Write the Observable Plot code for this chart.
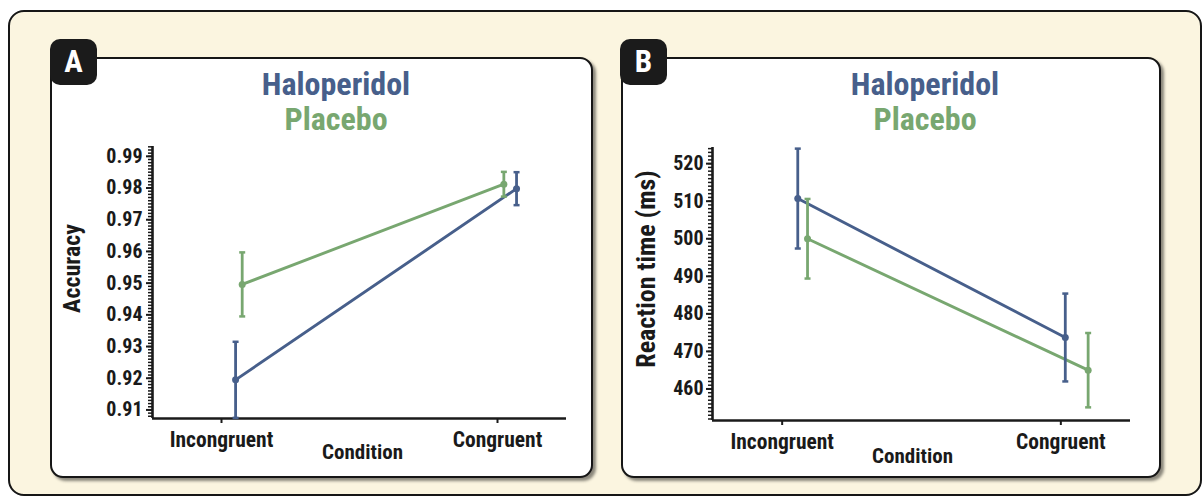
<!DOCTYPE html>
<html>
<head>
<meta charset="utf-8">
<script src="https://cdn.jsdelivr.net/npm/d3@7"></script>
<script src="https://cdn.jsdelivr.net/npm/@observablehq/plot@0.6"></script>
<style>
  body { margin: 0; background: #ffffff; width: 1203px; height: 498px; overflow: hidden;
         font-family: "Liberation Sans Narrow", "Roboto Condensed", "DejaVu Sans Condensed", sans-serif; font-weight: bold; }
  #outer { position: absolute; left: 8px; top: 10px; width: 1194px; height: 486px; background: #fbf5e0;
           border: 2px solid #161616; border-radius: 16px; box-sizing: border-box; }
  .panel { position: absolute; top: 57px; height: 421px; background: #ffffff; border: 2.5px solid #161616;
           border-radius: 13px; box-sizing: border-box; box-shadow: 3px 3px 3px rgba(0,0,0,0.45); }
  .tab { position: absolute; top: 39px; width: 47px; height: 46px; background: #1b1b1b; border-radius: 10px;
         color: #ffffff; font-size: 31px; text-align: center; line-height: 46px; }
  .title { position: absolute; transform: translateX(-50%); font-size: 32px; white-space: nowrap; line-height: 1; }
  .plot { position: absolute; top: 57px; }
</style>
</head>
<body>
<div id="outer"></div>
<div class="panel" style="left:50px;width:543px;"></div>
<div class="panel" style="left:621px;width:540px;"></div>
<div class="tab" style="left:50px;">A</div>
<div class="tab" style="left:620px;">B</div>
<div class="title" id="tA1" style="left:336px;top:68px;"></div>
<div class="title" id="tA2" style="left:336px;top:103px;"></div>
<div class="title" id="tB1" style="left:925px;top:68px;"></div>
<div class="title" id="tB2" style="left:925px;top:103px;"></div>
<div class="plot" id="plotA" style="left:50px;"></div>
<div class="plot" id="plotB" style="left:621px;"></div>
<script>
// ---------------- DATA ----------------
const conditions = ["Incongruent", "Congruent"];
const groups = ["Haloperidol", "Placebo"];

const accuracyHaloperidol    = [0.9195, 0.9798];
const accuracyHaloperidolErr = [0.0120, 0.0052];
const accuracyPlacebo        = [0.9496, 0.9812];
const accuracyPlaceboErr     = [0.0101, 0.0039];

const rtHaloperidol    = [510.7, 473.7];
const rtHaloperidolErr = [13.3, 11.7];
const rtPlacebo        = [500.0, 465.0];
const rtPlaceboErr     = [10.6, 9.9];

const accuracyTicks = [0.91, 0.92, 0.93, 0.94, 0.95, 0.96, 0.97, 0.98, 0.99];
const rtTicks = [460, 470, 480, 490, 500, 510, 520];

const yLabelA = "Accuracy";
const yLabelB = "Reaction time (ms)";
const xLabel = "Condition";

// ---------------- DRAWING ----------------
const FONT = '"Liberation Sans Narrow", "Roboto Condensed", "DejaVu Sans Condensed", sans-serif';
const BLUE = "#475f8b";
const GREEN = "#78a770";
const INK = "#1a1a1a";

document.getElementById("tA1").textContent = groups[0];
document.getElementById("tA2").textContent = groups[1];
document.getElementById("tB1").textContent = groups[0];
document.getElementById("tB2").textContent = groups[1];
for (const id of ["tA1", "tB1"]) document.getElementById(id).style.color = BLUE;
for (const id of ["tA2", "tB2"]) document.getElementById(id).style.color = GREEN;

// horizontal jitter of the points (in condition units), as drawn in the figure
const jitterA = {Haloperidol: [0.051, 0.069], Placebo: [0.075, 0.023]};
const jitterB = {Haloperidol: [0.056, 0.016], Placebo: [0.091, 0.098]};

function rowsOf(hal, halErr, pla, plaErr, jitter) {
  const rows = [];
  conditions.forEach((c, i) => {
    rows.push({group: groups[0], condition: c, ci: i, x: i + jitter[groups[0]][i], value: hal[i], err: halErr[i]});
  });
  conditions.forEach((c, i) => {
    rows.push({group: groups[1], condition: c, ci: i, x: i + jitter[groups[1]][i], value: pla[i], err: plaErr[i]});
  });
  return rows;
}

const capSymbol = {
  draw(context, size) {
    const w = Math.sqrt(size / Math.PI);
    context.moveTo(-w, 0);
    context.lineTo(w, 0);
  }
};

function makePanel(o) {
  const xDomain = [-0.25, 1.25];
  const minor = d3.range(Math.ceil(o.yDomain[0] / o.minorStep), Math.floor(o.yDomain[1] / o.minorStep) + 1)
    .map(k => +(k * o.minorStep).toFixed(6));
  return Plot.plot({
    width: o.width, height: o.height,
    marginLeft: o.margins[0], marginRight: o.margins[1], marginTop: o.margins[2], marginBottom: o.margins[3],
    style: {background: "transparent", fontFamily: FONT, fontWeight: "bold", color: INK, overflow: "visible"},
    x: {type: "linear", domain: xDomain},
    y: {domain: o.yDomain},
    color: {domain: groups, range: [BLUE, GREEN]},
    marks: [
      Plot.axisY({ticks: minor, tickSize: 4, tickFormat: () => "", label: null, strokeWidth: 1.5, stroke: INK}),
      Plot.axisY({ticks: o.ticks, tickSize: 6, tickPadding: o.tickPad, tickFormat: o.fmt, fontSize: 20, label: null, strokeWidth: 2, stroke: INK, fill: INK}),
      Plot.axisX({ticks: [0, 1], tickFormat: i => conditions[i], tickSize: 5, tickPadding: 8, fontSize: 21.5, label: null, strokeWidth: 2, stroke: INK, fill: INK}),
      Plot.ruleX([xDomain[0]], {stroke: INK, strokeWidth: 2.6}),
      Plot.ruleY([o.yDomain[0]], {stroke: INK, strokeWidth: 2.6}),
      Plot.line(o.rows, {x: "x", y: "value", z: "group", stroke: "group", strokeWidth: 2.9}),
      Plot.ruleX(o.rows, {x: "x", y1: d => d.value - d.err, y2: d => d.value + d.err, stroke: "group", strokeWidth: 2.8}),
      Plot.dot(o.rows, {x: "x", y: d => d.value - d.err, symbol: capSymbol, r: 3, fill: "none", stroke: "group", strokeWidth: 2.5}),
      Plot.dot(o.rows, {x: "x", y: d => d.value + d.err, symbol: capSymbol, r: 3, fill: "none", stroke: "group", strokeWidth: 2.5}),
      Plot.dot(o.rows, {x: "x", y: "value", r: 3.5, fill: "group", stroke: "none"}),
      Plot.text([o.ylabel], {frameAnchor: "left", textAnchor: "middle", lineAnchor: "middle", rotate: -90,
                             dx: o.ylabelD[0], dy: o.ylabelD[1], fontSize: o.ylabelSize, fill: INK}),
      Plot.text([xLabel], {frameAnchor: "bottom", textAnchor: "middle", lineAnchor: "middle",
                           dx: o.xlabelD[0], dy: o.xlabelD[1], fontSize: 21, fill: INK})
    ]
  });
}

document.getElementById("plotA").append(makePanel({
  rows: rowsOf(accuracyHaloperidol, accuracyHaloperidolErr, accuracyPlacebo, accuracyPlaceboErr, jitterA),
  width: 543, height: 421, margins: [102, 27, 89, 60],
  yDomain: [0.9073, 0.9931], ticks: accuracyTicks, minorStep: 0.001, fmt: d3.format(".2f"), tickPad: 4,
  ylabel: yLabelA, ylabelSize: 24, ylabelD: [-80, -14], xlabelD: [3, 34]
}));

document.getElementById("plotB").append(makePanel({
  rows: rowsOf(rtHaloperidol, rtHaloperidolErr, rtPlacebo, rtPlaceboErr, jitterB),
  width: 540, height: 421, margins: [91, 31, 90, 58],
  yDomain: [451.6, 524.3], ticks: rtTicks, minorStep: 1, fmt: d3.format("d"), tickPad: 3,
  ylabel: yLabelB, ylabelSize: 26, ylabelD: [-66, -15], xlabelD: [-9, 36]
}));
</script>
</body>
</html>
